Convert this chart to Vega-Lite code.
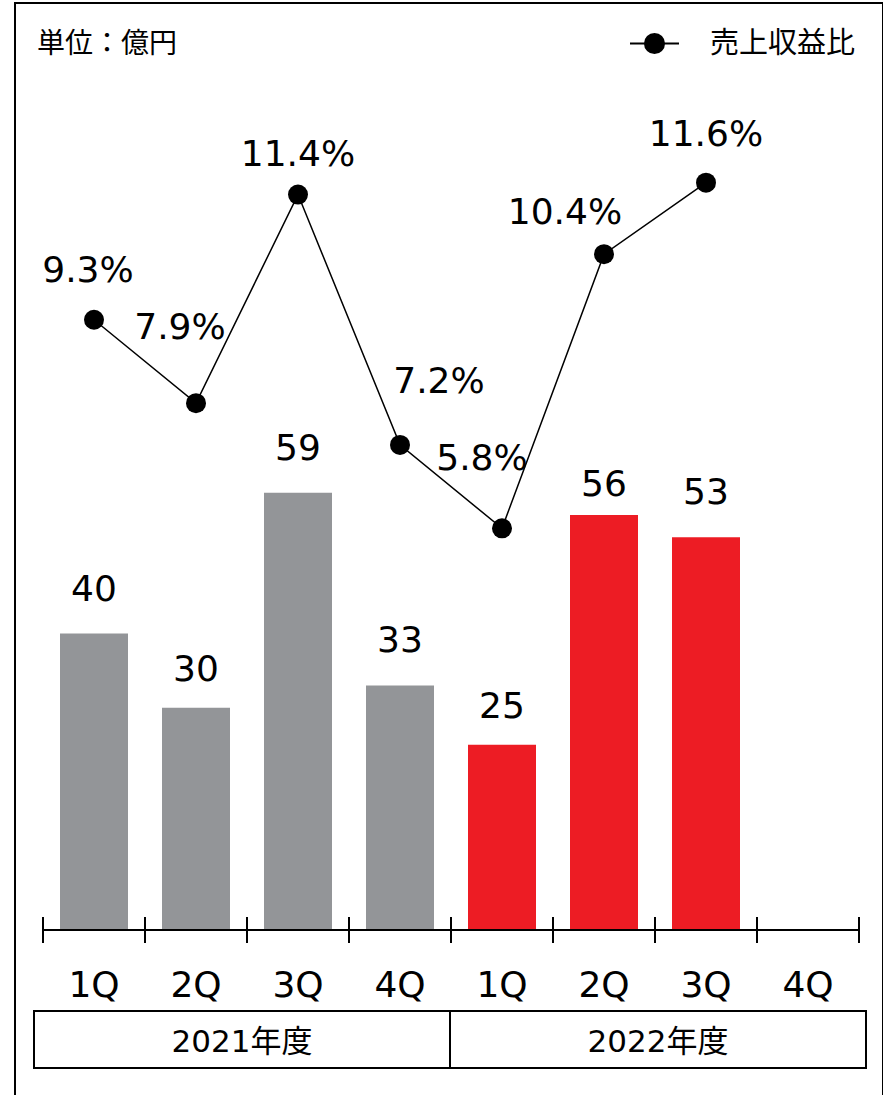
{
  "$schema": "https://vega.github.io/schema/vega-lite/v6.json",
  "autosize": "none",
  "padding": {"left": 15, "top": 3, "right": 0, "bottom": 0},
  "width": 868,
  "height": 1100,
  "background": "white",
  "title": {"text": "単位：億円", "anchor": "start", "frame": "group", "orient": "top", "offset": 0, "dx": 22, "dy": 70, "baseline": "middle", "font": "Noto Sans CJK JP", "fontSize": 28, "fontWeight": "normal", "color": "black"},
  "datasets": {
    "q": [
      {"slot": "2021-1Q", "q": "1Q", "year": "2021年度", "profit": 40, "margin": 0.093},
      {"slot": "2021-2Q", "q": "2Q", "year": "2021年度", "profit": 30, "margin": 0.079},
      {"slot": "2021-3Q", "q": "3Q", "year": "2021年度", "profit": 59, "margin": 0.114},
      {"slot": "2021-4Q", "q": "4Q", "year": "2021年度", "profit": 33, "margin": 0.072},
      {"slot": "2022-1Q", "q": "1Q", "year": "2022年度", "profit": 25, "margin": 0.058},
      {"slot": "2022-2Q", "q": "2Q", "year": "2022年度", "profit": 56, "margin": 0.104},
      {"slot": "2022-3Q", "q": "3Q", "year": "2022年度", "profit": 53, "margin": 0.116},
      {"slot": "2022-4Q", "q": "4Q", "year": "2022年度", "profit": null, "margin": null}
    ],
    "years": [{"year": "2021年度"}, {"year": "2022年度"}]
  },
  "data": {"name": "q"},
  "resolve": {"scale": {"x": "independent", "y": "independent"}},
  "layer": [
    {
      "layer": [
        {
          "mark": {"type": "bar", "size": 68},
          "encoding": {
            "color": {"condition": {"test": "datum.year == '2022年度'", "value": "#ED1C24"}, "value": "#939598"}
          }
        },
        {
          "transform": [{"filter": "datum.q != '2Q' && datum.slot != '2022-1Q'"}],
          "mark": {"type": "text", "baseline": "alphabetic", "align": "center", "dy": -33, "font": "DejaVu Sans", "fontSize": 36, "color": "black"},
          "encoding": {"text": {"field": "profit", "type": "quantitative"}}
        },
        {
          "transform": [{"filter": "datum.slot == '2021-2Q' || datum.slot == '2022-1Q'"}],
          "mark": {"type": "text", "baseline": "alphabetic", "align": "center", "dy": -27, "font": "DejaVu Sans", "fontSize": 36, "color": "black"},
          "encoding": {"text": {"field": "profit", "type": "quantitative"}}
        },
        {
          "transform": [{"filter": "datum.slot == '2022-2Q'"}],
          "mark": {"type": "text", "baseline": "alphabetic", "align": "center", "dy": -19, "font": "DejaVu Sans", "fontSize": 36, "color": "black"},
          "encoding": {"text": {"field": "profit", "type": "quantitative"}}
        }
      ],
      "encoding": {
        "x": {"field": "slot", "type": "nominal", "sort": null, "scale": {"type": "band", "domain": ["2021-1Q","2021-2Q","2021-3Q","2021-4Q","2022-1Q","2022-2Q","2022-3Q","2022-4Q"], "range": [28, 844], "paddingInner": 0, "paddingOuter": 0}, "axis": null},
        "y": {"field": "profit", "type": "quantitative", "scale": {"domain": [-23.35, 125.1], "nice": false, "zero": false}, "axis": null}
      }
    },
    {
      "mark": {"type": "rule", "color": "black", "strokeWidth": 2},
      "encoding": {
        "x": {"datum": "2021-1Q", "type": "nominal", "bandPosition": 0, "scale": {"type": "band", "domain": ["2021-1Q","2021-2Q","2021-3Q","2021-4Q","2022-1Q","2022-2Q","2022-3Q","2022-4Q"], "range": [28, 844], "paddingInner": 0, "paddingOuter": 0}, "axis": null},
        "x2": {"datum": "2022-4Q", "bandPosition": 1},
        "y": {"datum": 0, "type": "quantitative", "scale": {"domain": [-23.35, 125.1], "nice": false, "zero": false}, "axis": null}
      }
    },
    {
      "mark": {"type": "rule", "color": "black", "strokeWidth": 2},
      "encoding": {
        "x": {"field": "slot", "type": "nominal", "sort": null, "bandPosition": 0, "scale": {"type": "band", "domain": ["2021-1Q","2021-2Q","2021-3Q","2021-4Q","2022-1Q","2022-2Q","2022-3Q","2022-4Q"], "range": [28, 844], "paddingInner": 0, "paddingOuter": 0}, "axis": null},
        "y": {"datum": 1.75, "type": "quantitative", "scale": {"domain": [-23.35, 125.1], "nice": false, "zero": false}, "axis": null},
        "y2": {"datum": -1.75}
      }
    },
    {
      "mark": {"type": "rule", "color": "black", "strokeWidth": 2},
      "encoding": {
        "x": {"datum": "2022-4Q", "type": "nominal", "bandPosition": 1, "scale": {"type": "band", "domain": ["2021-1Q","2021-2Q","2021-3Q","2021-4Q","2022-1Q","2022-2Q","2022-3Q","2022-4Q"], "range": [28, 844], "paddingInner": 0, "paddingOuter": 0}, "axis": null},
        "y": {"datum": 1.75, "type": "quantitative", "scale": {"domain": [-23.35, 125.1], "nice": false, "zero": false}, "axis": null},
        "y2": {"datum": -1.75}
      }
    },
    {
      "mark": {"type": "text", "baseline": "alphabetic", "align": "center", "font": "DejaVu Sans", "fontSize": 36, "color": "black"},
      "encoding": {
        "x": {"field": "slot", "type": "nominal", "sort": null, "scale": {"type": "band", "domain": ["2021-1Q","2021-2Q","2021-3Q","2021-4Q","2022-1Q","2022-2Q","2022-3Q","2022-4Q"], "range": [28, 844], "paddingInner": 0, "paddingOuter": 0}, "axis": null},
        "y": {"datum": -9.04, "type": "quantitative", "scale": {"domain": [-23.35, 125.1], "nice": false, "zero": false}, "axis": null},
        "text": {"field": "q", "type": "nominal"}
      }
    },
    {
      "data": {"name": "years"},
      "mark": {"type": "rect", "fill": "white", "fillOpacity": 0, "stroke": "black", "strokeWidth": 2},
      "encoding": {
        "x": {"field": "year", "type": "nominal", "sort": null, "scale": {"type": "band", "domain": ["2021年度", "2022年度"], "range": [19, 851], "paddingInner": 0, "paddingOuter": 0}, "axis": null},
        "y": {"datum": -10.93, "type": "quantitative", "scale": {"domain": [-23.35, 125.1], "nice": false, "zero": false}, "axis": null},
        "y2": {"datum": -18.62}
      }
    },
    {
      "data": {"name": "years"},
      "mark": {"type": "text", "baseline": "alphabetic", "align": "center", "font": "DejaVu Sans, Noto Sans CJK JP", "fontSize": 31, "color": "black"},
      "encoding": {
        "x": {"field": "year", "type": "nominal", "sort": null, "scale": {"type": "band", "domain": ["2021年度", "2022年度"], "range": [19, 851], "paddingInner": 0, "paddingOuter": 0}, "axis": null},
        "y": {"datum": -16.46, "type": "quantitative", "scale": {"domain": [-23.35, 125.1], "nice": false, "zero": false}, "axis": null},
        "text": {"field": "year", "type": "nominal"}
      }
    },
    {
      "layer": [
        {
          "mark": {"type": "line", "color": "black", "strokeWidth": 1.5},
          "encoding": {}
        },
        {
          "mark": {"type": "point", "filled": true, "size": 400, "opacity": 1},
          "encoding": {
            "color": {"datum": "売上収益比", "type": "nominal", "scale": {"range": ["black"]},
              "legend": {"orient": "none", "legendX": 614, "legendY": 15, "title": null, "padding": 0,
                "symbolType": "M-1,0L1,0M0.39,0A0.39,0.39,0,1,1,-0.39,0A0.39,0.39,0,1,1,0.39,0Z",
                "symbolSize": 2401, "symbolStrokeWidth": 2, "symbolFillColor": "black", "symbolStrokeColor": "black",
                "labelFont": "Noto Sans CJK JP", "labelFontSize": 29, "labelColor": "black", "labelOffset": 30, "labelLimit": 400,
                "encode": {"symbols": {"update": {"stroke": {"value": "black"}, "strokeWidth": {"value": 2}, "fill": {"value": "black"}, "opacity": {"value": 1}}}}}}
          }
        },
        {
          "transform": [{"filter": "datum.slot == '2021-1Q'"}],
          "mark": {"type": "text", "baseline": "alphabetic", "align": "center", "dx": -6, "dy": -38, "font": "DejaVu Sans", "fontSize": 36, "color": "black"},
          "encoding": {"text": {"field": "margin", "type": "quantitative", "format": ".1%"}}
        },
        {
          "transform": [{"filter": "datum.slot == '2021-2Q'"}],
          "mark": {"type": "text", "baseline": "alphabetic", "align": "center", "dx": -16, "dy": -64, "font": "DejaVu Sans", "fontSize": 36, "color": "black"},
          "encoding": {"text": {"field": "margin", "type": "quantitative", "format": ".1%"}}
        },
        {
          "transform": [{"filter": "datum.slot == '2021-3Q'"}],
          "mark": {"type": "text", "baseline": "alphabetic", "align": "center", "dx": 0, "dy": -29, "font": "DejaVu Sans", "fontSize": 36, "color": "black"},
          "encoding": {"text": {"field": "margin", "type": "quantitative", "format": ".1%"}}
        },
        {
          "transform": [{"filter": "datum.slot == '2021-4Q'"}],
          "mark": {"type": "text", "baseline": "alphabetic", "align": "center", "dx": 39, "dy": -52, "font": "DejaVu Sans", "fontSize": 36, "color": "black"},
          "encoding": {"text": {"field": "margin", "type": "quantitative", "format": ".1%"}}
        },
        {
          "transform": [{"filter": "datum.slot == '2022-1Q'"}],
          "mark": {"type": "text", "baseline": "alphabetic", "align": "center", "dx": -20, "dy": -58, "font": "DejaVu Sans", "fontSize": 36, "color": "black"},
          "encoding": {"text": {"field": "margin", "type": "quantitative", "format": ".1%"}}
        },
        {
          "transform": [{"filter": "datum.slot == '2022-2Q'"}],
          "mark": {"type": "text", "baseline": "alphabetic", "align": "center", "dx": -39, "dy": -30, "font": "DejaVu Sans", "fontSize": 36, "color": "black"},
          "encoding": {"text": {"field": "margin", "type": "quantitative", "format": ".1%"}}
        },
        {
          "transform": [{"filter": "datum.slot == '2022-3Q'"}],
          "mark": {"type": "text", "baseline": "alphabetic", "align": "center", "dx": 0, "dy": -37, "font": "DejaVu Sans", "fontSize": 36, "color": "black"},
          "encoding": {"text": {"field": "margin", "type": "quantitative", "format": ".1%"}}
        }
      ],
      "encoding": {
        "x": {"field": "slot", "type": "nominal", "sort": null, "scale": {"type": "band", "domain": ["2021-1Q","2021-2Q","2021-3Q","2021-4Q","2022-1Q","2022-2Q","2022-3Q","2022-4Q"], "range": [28, 844], "paddingInner": 0, "paddingOuter": 0}, "axis": null},
        "y": {"field": "margin", "type": "quantitative", "scale": {"domain": [-0.03842, 0.14614], "nice": false, "zero": false}, "axis": null}
      }
    }
  ],
  "config": {
    "view": {"stroke": "black", "strokeWidth": 2},
    "legend": {"symbolOpacity": 1}
  }
}
